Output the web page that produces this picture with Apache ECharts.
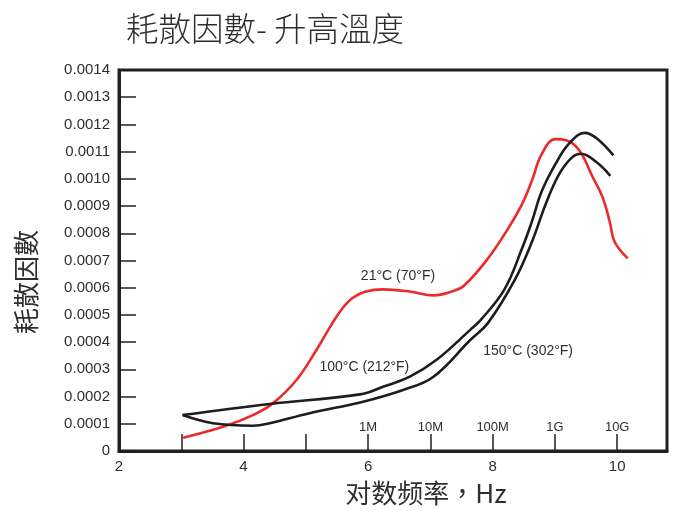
<!DOCTYPE html>
<html>
<head>
<meta charset="utf-8">
<script src="https://cdn.jsdelivr.net/npm/echarts@6/dist/echarts.min.js"></script>
<style>
  html, body { margin: 0; padding: 0; background: #fff; }
  #chart { width: 676px; height: 511px; }
</style>
</head>
<body>
<div id="chart"></div>
<script>
// Dissipation factor vs. log frequency at three temperatures
const titleText = '耗散因數- 升高溫度';
const yName = '耗散因數';
const xName = '对数频率，Hz';

// log10(frequency) tick labels shown under the axis
const xLabelValues = [2, 4, 6, 8, 10];
// frequency labels drawn inside the plot above the inner ticks
const freqValues = [6, 7, 8, 9, 10];
const freqLabels = ['1M', '10M', '100M', '1G', '10G'];
// y tick labels, one per 0.0001 step from 0 to 0.0014
const yTickLabels = ['0', '0.0001', '0.0002', '0.0003', '0.0004', '0.0005', '0.0006',
  '0.0007', '0.0008', '0.0009', '0.0010', '0.0011', '0.0012', '0.0013', '0.0014'];

const seriesNames = ['21°C (70°F)', '100°C (212°F)', '150°C (302°F)'];

// [log frequency, dissipation factor]
const curve21C = [
  [3.03, 0.000049], [3.67, 0.000089], [4.15, 0.000132], [4.47, 0.000175],
  [4.85, 0.000261], [5.17, 0.000371], [5.40, 0.000460], [5.58, 0.000522],
  [5.75, 0.000562], [5.95, 0.000585], [6.24, 0.000594], [6.67, 0.000586],
  [7.05, 0.000572], [7.37, 0.000588], [7.54, 0.000607], [7.92, 0.000706],
  [8.25, 0.000818], [8.47, 0.000906], [8.63, 0.000993], [8.79, 0.001092],
  [9.01, 0.001146], [9.18, 0.001142], [9.39, 0.001105], [9.61, 0.001005],
  [9.77, 0.000930], [9.88, 0.000843], [9.96, 0.000768], [10.17, 0.000708]
];
const curve100C = [
  [3.02, 0.000132], [4.42, 0.000173], [5.87, 0.000208], [6.24, 0.000236],
  [6.67, 0.000273], [7.10, 0.000335], [7.64, 0.000445], [7.81, 0.000482],
  [8.19, 0.000594], [8.47, 0.000743], [8.63, 0.000843], [8.79, 0.000955],
  [9.01, 0.001055], [9.23, 0.001130], [9.48, 0.001169], [9.67, 0.001149],
  [9.94, 0.001086]
];
const curve150C = [
  [3.02, 0.000132], [3.51, 0.000102], [4.15, 0.000093], [4.42, 0.000102],
  [5.06, 0.000139], [5.92, 0.000181], [6.56, 0.000224], [7.05, 0.000273],
  [7.64, 0.000408], [7.92, 0.000469], [8.36, 0.000631], [8.63, 0.000768],
  [8.85, 0.000906], [9.07, 0.001018], [9.28, 0.001080], [9.42, 0.001092],
  [9.67, 0.001061], [9.89, 0.001011]
];
// where each curve's name is written, in data coordinates
const nameAnchors = [[6.48, 0.000643], [5.94, 0.000307], [8.57, 0.000368]];

const ink = '#231f20';
const textColor = '#2e2e2e';
const numFont = '"Liberation Sans", Arial, sans-serif';
const cjkFont = '"Noto Sans CJK TC", "Noto Sans CJK SC", sans-serif';

function curveSeries(name, data, color, anchor) {
  return {
    type: 'line',
    name: name,
    data: data,
    smooth: 0.4,
    showSymbol: false,
    symbol: 'none',
    lineStyle: { color: color, width: 2.6 },
    z: 3,
    markPoint: {
      symbol: 'rect',
      symbolSize: 1,
      silent: true,
      itemStyle: { color: 'transparent' },
      label: {
        show: true,
        position: 'inside',
        formatter: name,
        color: textColor,
        fontFamily: numFont,
        fontSize: 14
      },
      data: [{ coord: anchor }]
    }
  };
}

const chart = echarts.init(document.getElementById('chart'), null, { renderer: 'canvas' });
chart.setOption({
  backgroundColor: '#ffffff',
  animation: false,
  title: {
    text: titleText,
    left: 121,
    top: 7,
    textStyle: { fontFamily: cjkFont, fontSize: 32.5, fontWeight: 300, color: textColor }
  },
  // axis titles
  graphic: [
    {
      type: 'text',
      x: 426, y: 493,
      style: {
        text: xName, align: 'center', verticalAlign: 'middle',
        font: '26px ' + cjkFont, fill: textColor
      }
    },
    {
      type: 'text',
      x: 26, y: 282,
      rotation: Math.PI / 2,
      style: {
        text: yName, align: 'center', verticalAlign: 'middle',
        font: '26px ' + cjkFont, fill: textColor
      }
    }
  ],
  grid: {
    left: 119, right: 9, top: 70, bottom: 60,
    show: true, borderColor: ink, borderWidth: 3, backgroundColor: 'transparent'
  },
  xAxis: [
    {
      type: 'value',
      min: 2, max: 10.8, interval: 1,
      axisLine: { show: true, onZero: false, lineStyle: { color: ink, width: 3 } },
      axisTick: { show: true, inside: true, length: 17, lineStyle: { color: ink, width: 1.5 } },
      splitLine: { show: false },
      axisLabel: {
        margin: 8,
        fontFamily: numFont, fontSize: 15, color: textColor,
        formatter: function (v) {
          return xLabelValues.indexOf(v) >= 0 ? String(v) : '';
        }
      }
    },
    {
      type: 'value',
      position: 'bottom',
      min: 2, max: 10.8, interval: 1,
      axisLine: { show: false },
      axisTick: { show: false },
      splitLine: { show: false },
      axisLabel: {
        inside: true,
        margin: 17,
        fontFamily: numFont, fontSize: 13, color: textColor,
        formatter: function (v) {
          const i = freqValues.indexOf(v);
          return i >= 0 ? freqLabels[i] : '';
        }
      }
    }
  ],
  yAxis: {
    type: 'value',
    min: 0, max: 0.0014, interval: 0.0001,
    axisLine: { show: true, lineStyle: { color: ink, width: 3 } },
    axisTick: { show: true, inside: true, length: 17, lineStyle: { color: ink, width: 1.5 } },
    splitLine: { show: false },
    axisLabel: {
      margin: 9,
      fontFamily: numFont, fontSize: 15, color: textColor,
      formatter: function (v) {
        const i = Math.round(v / 0.0001);
        return yTickLabels[i] !== undefined ? yTickLabels[i] : '';
      }
    }
  },
  series: [
    curveSeries(seriesNames[0], curve21C, '#ec2a2a', nameAnchors[0]),
    curveSeries(seriesNames[1], curve100C, '#1f1c1d', nameAnchors[1]),
    curveSeries(seriesNames[2], curve150C, '#1f1c1d', nameAnchors[2])
  ]
});
</script>
</body>
</html>
